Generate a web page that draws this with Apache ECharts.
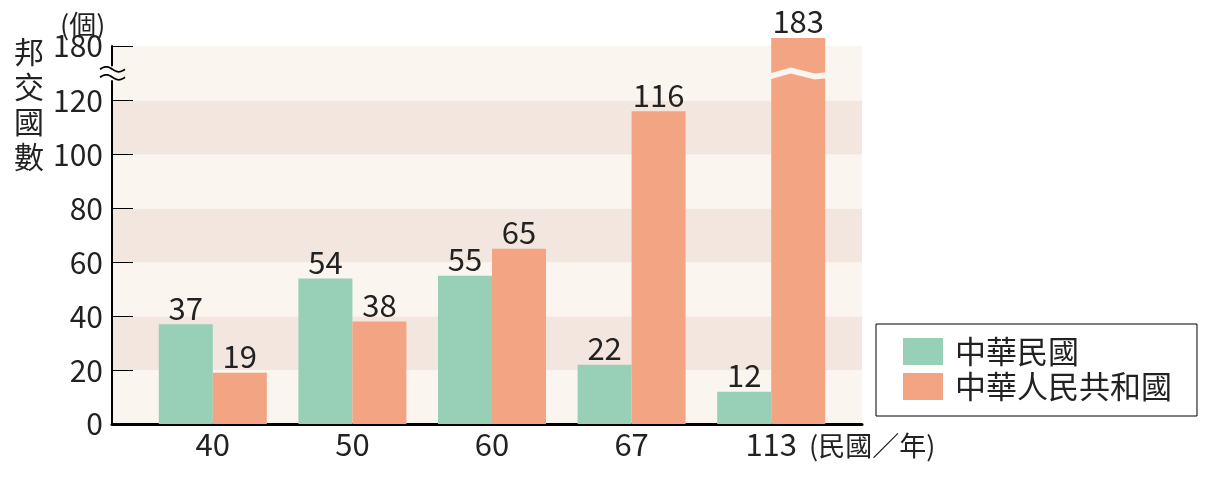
<!DOCTYPE html>
<html><head><meta charset="utf-8">
<script src="https://cdn.jsdelivr.net/npm/echarts@6/dist/echarts.min.js"></script>
<style>html,body{margin:0;padding:0;background:#fff}#c{width:1211px;height:479px}</style>
</head><body><div id="c"></div>
<script>
const categories = ['40', '50', '60', '67', '113'];
const rocValues = [37, 54, 55, 22, 12];
const prcValues = [19, 38, 65, 116, 183];
const yTickValues = [0, 20, 40, 60, 80, 100, 120, 180];
const seriesNames = ['中華民國', '中華人民共和國'];
const colors = ['#97d0b7', '#f3a483'];

const FONT = '"Noto Sans CJK TC", "DejaVu Sans", sans-serif';
const BG_LIGHT = '#faf5ef', BG_DARK = '#f3e6de';
const BREAK_START = 129, BREAK_END = 171;
const axisBreak = [{ start: BREAK_START, end: BREAK_END, gap: '1.6%' }];

function yAxisFor(gridIndex, visible) {
  return {
    type: 'value', gridIndex, min: 0, max: 180, interval: 20,
    breaks: axisBreak,
    breakArea: {
      show: !visible,
      itemStyle: { color: BG_LIGHT, opacity: 1, borderColor: BG_LIGHT, borderWidth: 0 },
      zigzagAmplitude: 3, zigzagMinSpan: 20, zigzagMaxSpan: 30, expandOnClick: false
    },
    axisLine: { show: visible, lineStyle: { color: '#000', width: 2 } },
    axisTick: { show: visible, inside: true, length: 21, lineStyle: { color: '#000', width: 1 }, customValues: yTickValues },
    axisLabel: { show: visible, margin: 9, color: '#222', fontSize: 30, fontFamily: FONT, customValues: yTickValues },
    splitLine: { show: false },
    splitArea: { show: visible, areaStyle: { color: [BG_LIGHT, BG_DARK] } }
  };
}

const labelStyle = { show: true, position: 'top', distance: 1, fontSize: 31, fontFamily: FONT, color: '#222' };

const option = {
  animation: false,
  title: [
    { text: '邦\n交\n國\n數', left: 14, top: 34, padding: 0, textStyle: { fontSize: 30, fontWeight: 'normal', lineHeight: 35, fontFamily: FONT, color: '#222' } },
    { text: '(個)', left: 60, top: 11, padding: 0, textStyle: { fontSize: 27, fontWeight: 'normal', fontFamily: FONT, color: '#222' } }
  ],
  legend: {
    orient: 'vertical', left: 876, top: 324,
    padding: [12, 25, 14, 27], itemGap: 4, itemWidth: 40, itemHeight: 27,
    borderColor: '#000', borderWidth: 1, borderRadius: 0,
    icon: 'rect',
    textStyle: { fontSize: 31, lineHeight: 31, fontFamily: FONT, color: '#222', padding: [0, 0, 0, 7] },
    data: seriesNames
  },
  grid: [
    { left: 112, right: 349, top: 46, bottom: 55 },
    { left: 143, right: 370, top: 46, bottom: 55 }
  ],
  xAxis: [
    { type: 'category', gridIndex: 0, data: categories, axisLine: { lineStyle: { color: '#000', width: 3 } },
      axisTick: { show: false }, axisLabel: { show: false } },
    { type: 'category', gridIndex: 1, data: categories, axisLine: { show: false }, axisTick: { show: false },
      axisLabel: { margin: 5, color: '#222', fontSize: 31, fontFamily: FONT },
      name: '(民國／年)', nameLocation: 'end', nameGap: -32,
      nameTextStyle: { fontSize: 27, fontFamily: FONT, color: '#222', align: 'left', verticalAlign: 'top', padding: [8, 0, 0, 0] } }
  ],
  yAxis: [yAxisFor(0, true), yAxisFor(1, false)],
  series: [
    { name: seriesNames[0], type: 'bar', xAxisIndex: 1, yAxisIndex: 1, data: rocValues, barWidth: 54, barGap: '0%',
      itemStyle: { color: colors[0] }, clip: false, label: labelStyle },
    { name: seriesNames[1], type: 'bar', xAxisIndex: 1, yAxisIndex: 1, data: prcValues, barWidth: 54, barGap: '0%',
      itemStyle: { color: colors[1] }, clip: false, label: labelStyle }
  ]
};
const chart = echarts.init(document.getElementById('c'), null, { renderer: 'canvas' });
chart.setOption(option);

// axis-break "≈" mark on the y axis line, positioned from the axis scale
const gridRect = chart.getModel().getComponent('grid', 0).coordinateSystem.getRect();
const yTop = chart.convertToPixel({ yAxisIndex: 0 }, BREAK_START);
const yBot = chart.convertToPixel({ yAxisIndex: 0 }, BREAK_END);
const yMid = (yTop + yBot) / 2;
function wave(cx, cy) {
  const pts = [];
  for (let i = 0; i <= 24; i++) {
    const t = i / 24;
    pts.push([cx - 12 + 25 * t, cy - 2.5 * Math.sin(t * 2 * Math.PI)]);
  }
  return pts;
}
chart.setOption({
  graphic: [
    { type: 'rect', shape: { x: gridRect.x - 2, y: yMid - 7, width: 4, height: 14 }, style: { fill: '#fff' }, z: 100 },
    { type: 'polyline', shape: { points: wave(gridRect.x, yMid - 4) }, style: { stroke: '#000', lineWidth: 1.8, fill: null }, z: 101 },
    { type: 'polyline', shape: { points: wave(gridRect.x, yMid + 4) }, style: { stroke: '#000', lineWidth: 1.8, fill: null }, z: 101 }
  ]
});
</script></body></html>
